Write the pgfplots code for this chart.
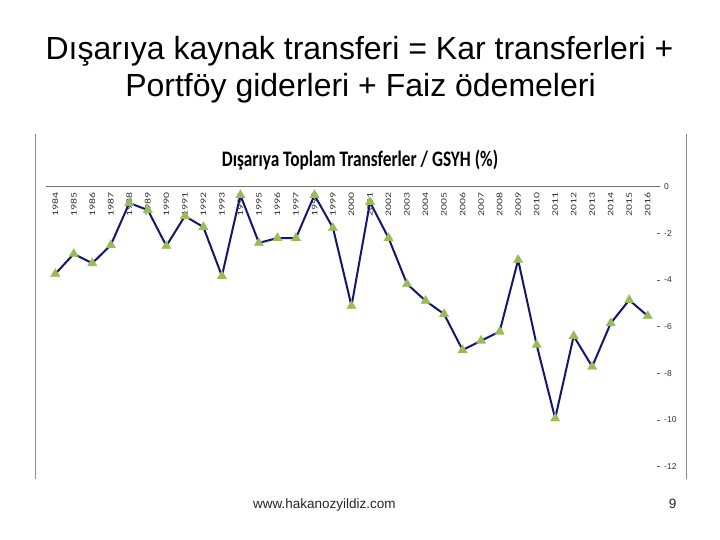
\documentclass[border=0pt]{standalone}
\usepackage{pgfplots}
\pgfplotsset{compat=1.18}
\usepackage{fontspec}
\setmainfont{Liberation Sans}
\newfontfamily\carlito{Carlito}
\definecolor{navyline}{RGB}{22,22,110}
\definecolor{mkgreen}{RGB}{155,187,89}
\begin{document}
\begin{tikzpicture}[x=1bp,y=1bp]
\path[fill=white] (0,0) rectangle (720,540);
% slide title
\node[anchor=base, inner sep=0] at (359.5,480) {\fontsize{32bp}{37bp}\selectfont Dışarıya kaynak transferi = Kar transferleri +};
\node[anchor=base, inner sep=0] at (360.5,443) {\fontsize{32bp}{37bp}\selectfont Portföy giderleri + Faiz ödemeleri};
% chart frame
\draw[black!45, line width=0.9bp] (35,406) -- (35,61);
\draw[black!45, line width=0.9bp] (686,406) -- (686,61);
% chart title
\node[anchor=base, inner sep=0] at (360,373.5) {\scalebox{1}[1.28]{\carlito\bfseries\fontsize{17.3bp}{20bp}\selectfont Dışarıya Toplam Transferler / GSYH (\%)}};
\begin{axis}[
  at={(46bp,73.3bp)}, anchor=south west,
  scale only axis, width=611bp, height=280bp,
  xmin=1983.5, xmax=2016.5, ymin=-12, ymax=0,
  clip=false,
  axis x line*=top, axis y line*=right,
  x axis line style={black!55, line width=0.6bp},
  y axis line style={draw=none},
  xtick={1984,...,2016},
  xtick style={draw=none},
  minor xtick={1983.5,1984.5,...,2016.5},
  minor x tick style={black!55, line width=0.6bp},
  minor tick length=4bp,
  major tick length=3bp,
  tick align=inside,
  ytick={-12,-10,...,0},
  yticklabels={-12,-10,-8,-6,-4,-2,0},
  ytick style={black!60, line width=0.6bp, xshift=3bp},
  xticklabel={\scalebox{1.4}[1]{\carlito\fontsize{8.4bp}{9bp}\selectfont\pgfmathprintnumber[1000 sep={},assume math mode=true]{\tick}}},
  xticklabel style={rotate=90, anchor=east, inner sep=0pt, text=black!80},
  xticklabel shift=-5.5bp,
  yticklabel style={anchor=west, inner sep=0pt, xshift=7bp, text=black!80, font=\fontsize{8.5bp}{9bp}\selectfont},
  every axis plot/.append style={line join=round},
]
\addplot[navyline, line width=2bp, mark=triangle*, mark size=5.5bp,
  mark options={fill=mkgreen, draw=mkgreen, line width=0.2bp}]
coordinates {
(1984,-3.74) (1985,-2.88) (1986,-3.28) (1987,-2.50) (1988,-0.70) (1989,-1.00)
(1990,-2.54) (1991,-1.26) (1992,-1.73) (1993,-3.83) (1994,-0.36) (1995,-2.41)
(1996,-2.20) (1997,-2.20) (1998,-0.36) (1999,-1.77) (2000,-5.11) (2001,-0.66)
(2002,-2.20) (2003,-4.17) (2004,-4.89) (2005,-5.46) (2006,-7.00) (2007,-6.60)
(2008,-6.21) (2009,-3.14) (2010,-6.78) (2011,-9.93) (2012,-6.40) (2013,-7.71)
(2014,-5.85) (2015,-4.86) (2016,-5.54)
};
\end{axis}
% footer
\node[anchor=base west, inner sep=0, text=black!85] at (253,31) {\fontsize{13.5bp}{15bp}\selectfont www.hakanozyildiz.com};
\node[anchor=base, inner sep=0, text=black!85] at (672.5,31) {\fontsize{13.5bp}{15bp}\selectfont 9};
\end{tikzpicture}
\end{document}
